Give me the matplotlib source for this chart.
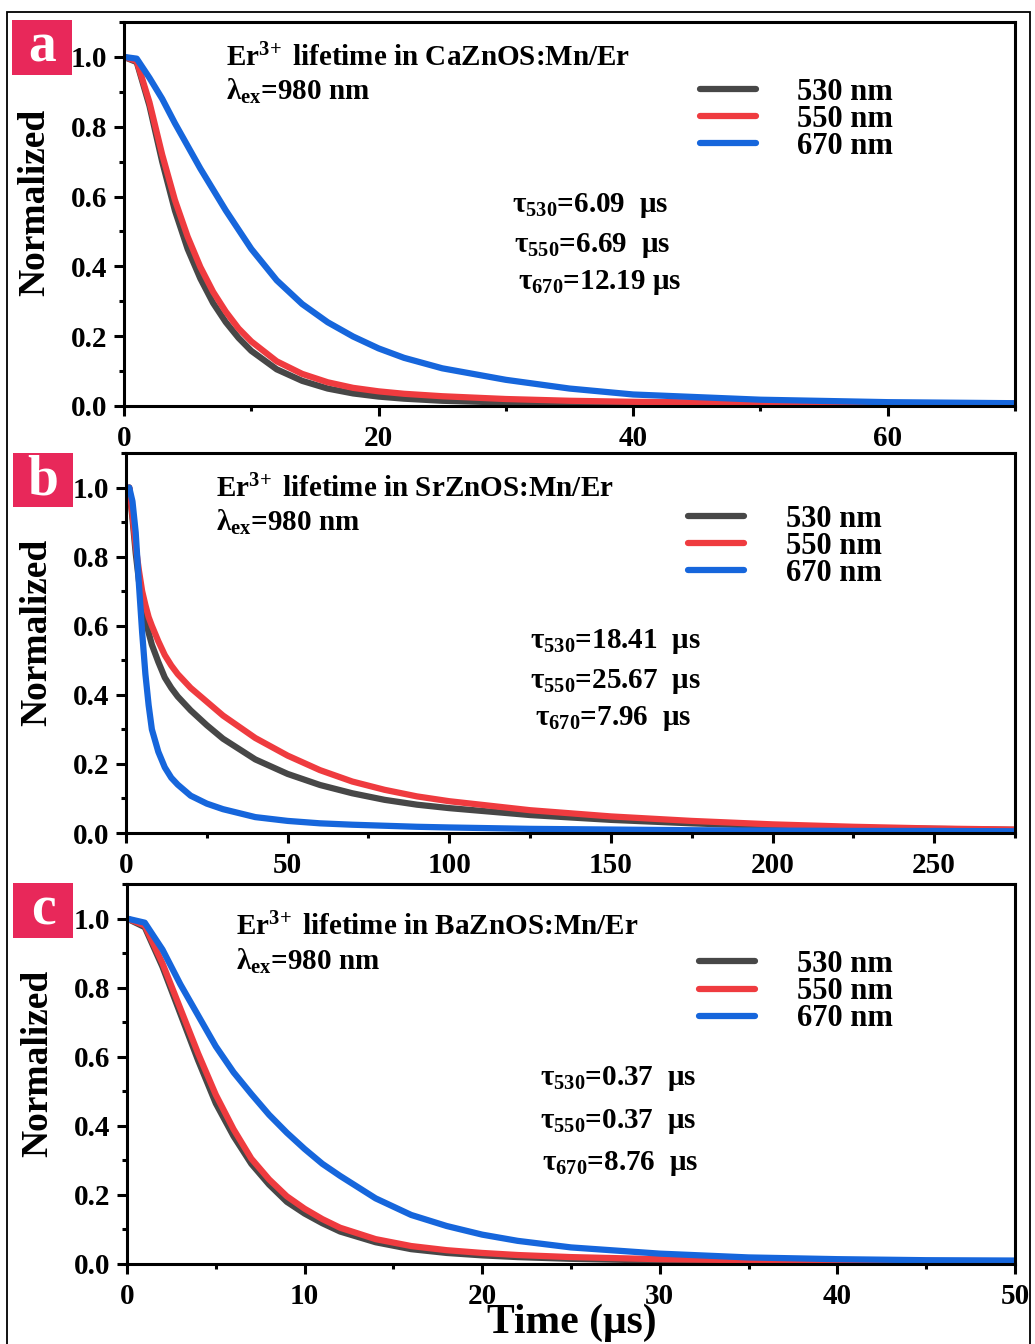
import matplotlib.pyplot as plt
from matplotlib.patches import Rectangle
from matplotlib.ticker import MultipleLocator

plt.rcParams['font.family'] = ['Liberation Serif', 'DejaVu Serif']
plt.rcParams['font.weight'] = 'bold'
plt.rcParams['axes.labelweight'] = 'bold'
plt.rcParams['mathtext.fontset'] = 'custom'
plt.rcParams['mathtext.rm'] = 'Liberation Serif:bold'
plt.rcParams['mathtext.it'] = 'Liberation Serif:bold'
plt.rcParams['mathtext.bf'] = 'Liberation Serif:bold'
plt.rcParams['mathtext.default'] = 'rm'

# ---- data ----
# (a) CaZnOS:Mn/Er
t_ca = [0, 1, 2, 3, 4, 5, 6, 7, 8, 9, 10, 12, 14, 16, 18, 20, 22, 25, 30, 35, 40, 50, 60, 70]
ca_530 = [1.0, 0.985, 0.86, 0.70, 0.56, 0.45, 0.365, 0.295, 0.24, 0.195, 0.158, 0.105, 0.072, 0.05,
          0.036, 0.027, 0.021, 0.015, 0.010, 0.008, 0.006, 0.005, 0.004, 0.004]
ca_550 = [1.0, 0.988, 0.87, 0.72, 0.59, 0.485, 0.398, 0.327, 0.27, 0.222, 0.185, 0.128, 0.092, 0.068,
          0.052, 0.042, 0.035, 0.028, 0.020, 0.015, 0.012, 0.009, 0.008, 0.007]
ca_670 = [1.0, 0.995, 0.94, 0.88, 0.81, 0.745, 0.68, 0.62, 0.56, 0.505, 0.45, 0.36, 0.292, 0.24,
          0.199, 0.165, 0.138, 0.108, 0.075, 0.05, 0.033, 0.018, 0.011, 0.008]

# (b) SrZnOS:Mn/Er
t_sr = [0, 1, 2, 3, 4, 5, 6, 7, 8, 10, 12, 14, 16, 20, 25, 30, 40, 50, 60, 70, 80, 90, 100,
        125, 150, 175, 200, 225, 250, 275]
sr_530 = [0.96, 1.0, 0.91, 0.81, 0.73, 0.67, 0.62, 0.58, 0.545, 0.495, 0.45, 0.42, 0.395, 0.355,
          0.312, 0.273, 0.213, 0.171, 0.139, 0.115, 0.096, 0.082, 0.072, 0.052, 0.038, 0.028,
          0.020, 0.015, 0.012, 0.009]
sr_550 = [0.96, 1.0, 0.92, 0.83, 0.76, 0.70, 0.66, 0.625, 0.60, 0.555, 0.515, 0.485, 0.46, 0.42,
          0.38, 0.34, 0.275, 0.224, 0.182, 0.149, 0.125, 0.106, 0.092, 0.066, 0.048, 0.035,
          0.025, 0.018, 0.013, 0.010]
sr_670 = [0.98, 1.0, 0.96, 0.87, 0.72, 0.58, 0.46, 0.37, 0.30, 0.235, 0.19, 0.16, 0.14, 0.108,
          0.085, 0.069, 0.046, 0.035, 0.028, 0.024, 0.021, 0.018, 0.016, 0.012, 0.010, 0.008,
          0.007, 0.006, 0.006, 0.005]

# (c) BaZnOS:Mn/Er
t_ba = [0, 1, 2, 3, 4, 5, 6, 7, 8, 9, 10, 11, 12, 14, 16, 18, 20, 22, 25, 30, 35, 40, 45, 50]
ba_530 = [1.0, 0.975, 0.86, 0.725, 0.59, 0.465, 0.37, 0.29, 0.23, 0.18, 0.146, 0.118, 0.094, 0.063,
          0.043, 0.032, 0.025, 0.020, 0.015, 0.010, 0.008, 0.007, 0.006, 0.006]
ba_550 = [1.0, 0.98, 0.87, 0.74, 0.61, 0.49, 0.39, 0.305, 0.245, 0.196, 0.16, 0.13, 0.105, 0.072,
          0.052, 0.040, 0.032, 0.026, 0.020, 0.014, 0.011, 0.009, 0.008, 0.007]
ba_670 = [1.0, 0.988, 0.91, 0.81, 0.72, 0.63, 0.555, 0.492, 0.432, 0.38, 0.333, 0.29, 0.255, 0.19,
          0.142, 0.11, 0.085, 0.067, 0.048, 0.030, 0.019, 0.014, 0.011, 0.010]

wavelengths = ['530 nm', '550 nm', '670 nm']
colores = ['#474747', '#ef3b3f', '#1666dc']
hosts = ['CaZnOS:Mn/Er', 'SrZnOS:Mn/Er', 'BaZnOS:Mn/Er']
taus = [['6.09  μs', '6.69  μs', '12.19 μs'],
        ['18.41  μs', '25.67  μs', '7.96  μs'],
        ['0.37  μs', '0.37  μs', '8.76  μs']]
letras = ['a', 'b', 'c']

W, H = 1035, 1344
fig = plt.figure(figsize=(W / 100, H / 100), dpi=100)

# axes boxes in pixels: left, top, right, bottom
cajas = [(124, 22, 1015, 406), (126, 453, 1015, 833), (127, 884, 1015, 1264)]
tiempos = [t_ca, t_sr, t_ba]
curvas = [[ca_530, ca_550, ca_670], [sr_530, sr_550, sr_670], [ba_530, ba_550, ba_670]]
xlims = [70, 275, 50]
xmaj = [20, 50, 10]
xmin = [10, 25, 5]
# text positions (axes fraction)
pos_host = [(0.1145, 0.885, 0.797), (0.101, 0.884, 0.795), (0.123, 0.866, 0.774)]
pos_tau = [[(0.435, 0.505), (0.438, 0.401), (0.442, 0.305)],
           [(0.454, 0.487), (0.454, 0.382), (0.46, 0.284)],
           [(0.465, 0.471), (0.465, 0.358), (0.467, 0.247)]]
pos_leg = [(0.646, 0.855), (0.632, 0.864), (0.644, 0.826)]
cajas_letra = [(12, 20, 72, 75), (13, 453, 73, 507), (13, 883, 73, 938)]

for i in range(3):
    l, t, r, b = cajas[i]
    ax = fig.add_axes([l / W, 1 - b / H, (r - l) / W, (b - t) / H])
    for c, y, lab in zip(colores, curvas[i], wavelengths):
        ax.plot(tiempos[i], y, color=c, lw=4.5, label=lab, solid_capstyle='round')
    ax.set_xlim(0, xlims[i])
    ax.set_ylim(0, 1.1)
    ax.xaxis.set_major_locator(MultipleLocator(xmaj[i]))
    ax.xaxis.set_minor_locator(MultipleLocator(xmin[i]))
    ax.yaxis.set_major_locator(MultipleLocator(0.2))
    ax.yaxis.set_minor_locator(MultipleLocator(0.1))
    ax.yaxis.set_major_formatter(lambda v, p: '%.1f' % v)
    ax.tick_params(which='major', direction='out', length=7, width=2.2, labelsize=21, pad=5)
    ax.tick_params(which='minor', direction='out', length=3.6, width=2.2)
    ax.tick_params(axis='x', which='major', pad=7)
    for s in ax.spines.values():
        s.set_linewidth(2.2)
    ax.set_ylabel('Normalized', fontsize=27, fontweight='bold')
    ax.yaxis.set_label_coords(-0.081, 0.529)

    hx, hy1, hy2 = pos_host[i]
    ax.text(hx, hy1, r'Er$^{3\!+}$ lifetime in ' + hosts[i], transform=ax.transAxes,
            fontsize=21, va='baseline')
    ax.text(hx, hy2, 'λ$_{ex}$=980 nm', transform=ax.transAxes, fontsize=21, va='baseline')
    for k, (px, py) in enumerate(pos_tau[i]):
        ax.text(px, py, 'τ$_{%s}$=%s' % (wavelengths[k][:3], taus[i][k]), transform=ax.transAxes,
                fontsize=21, va='baseline')

    ax.legend(loc='upper left', bbox_to_anchor=pos_leg[i], frameon=False, fontsize=22,
              handlelength=1.85, handletextpad=1.35, labelspacing=-0.06, borderpad=0,
              borderaxespad=0)

    if i == 2:
        ax.set_xlabel('Time (μs)', fontsize=30, fontweight='bold', labelpad=0)
        ax.xaxis.set_label_coords(0.501, -0.105)

    # panel letter
    x0, y0, x1, y1 = cajas_letra[i]
    fig.patches.append(Rectangle((x0 / W, 1 - y1 / H), (x1 - x0) / W, (y1 - y0) / H,
                                 transform=fig.transFigure, facecolor='#e8285a', edgecolor='none'))
    fig.text((x0 + x1) / 2 / W, 1 - (y0 + y1) / 2 / H, letras[i], color='white', fontsize=40,
             ha='center', va='center')

# outer frame
fig.patches.append(Rectangle((7 / W, -0.01), 1023 / W, 1 - 12 / H + 0.01, transform=fig.transFigure,
                             facecolor='none', edgecolor='black', lw=1.3))

fig.savefig('out.png', dpi=100)
